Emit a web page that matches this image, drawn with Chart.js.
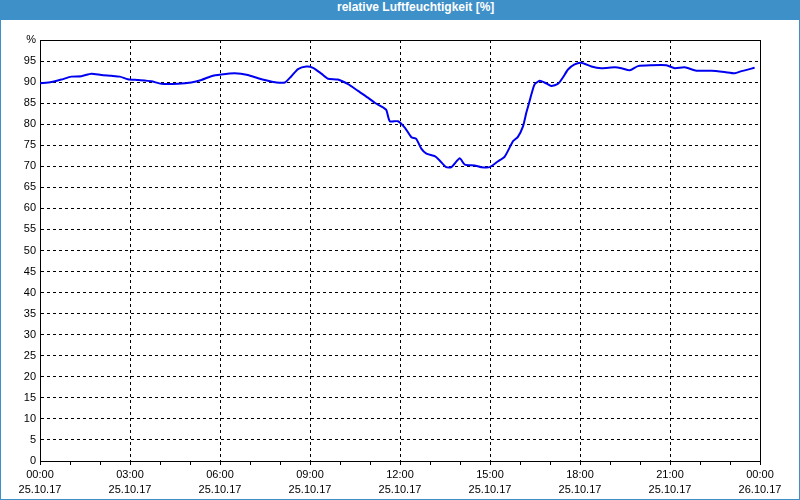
<!DOCTYPE html>
<html>
<head>
<meta charset="utf-8">
<script src="https://cdn.jsdelivr.net/npm/chart.js@4/dist/chart.umd.min.js"></script>
<style>
  body { margin: 0; background: #fff; }
  #frame { position: absolute; left: 0; top: 0; width: 798px; height: 499px; border: 1px solid #3d90c8; border-top: none; }
  #titlebar { position: absolute; left: 0; top: 0; width: 800px; height: 20px; background: #3d90c8; }
  #titlebar span { position: absolute; left: 337px; top: 0; line-height: 20px; color: #fff; font: bold 12px "Liberation Sans", Arial, sans-serif; }
  #chart { position: absolute; left: 0; top: 0; }
</style>
</head>
<body>
<div id="frame"></div>
<div id="titlebar"><span>relative Luftfeuchtigkeit [%]</span></div>
<canvas id="chart" width="800" height="500"></canvas>
<script>
// time in hours since 25.10.17 00:00
const hours = [
  0.00, 0.38, 0.71, 1.04, 1.38, 1.71, 2.04, 2.38, 2.66, 2.93,
  3.27, 3.71, 4.04, 4.60, 5.04, 5.38, 5.71, 6.04, 6.49, 6.93,
  7.27, 7.60, 7.88, 8.16, 8.38, 8.60, 8.88, 9.10, 9.38, 9.60,
  9.93, 10.27, 10.60, 10.93, 11.16, 11.49, 11.55, 11.66, 11.93, 12.16,
  12.38, 12.54, 12.71, 12.88, 13.16, 13.32, 13.54, 13.71, 13.99, 14.16,
  14.49, 14.71, 14.99, 15.27, 15.49, 15.77, 15.93, 16.10, 16.21, 16.32,
  16.38, 16.49, 16.66, 16.82, 17.04, 17.27, 17.43, 17.60, 17.82, 18.04,
  18.38, 18.71, 19.16, 19.38, 19.66, 19.93, 20.38, 20.88, 21.16, 21.49,
  21.88, 22.38, 22.82, 23.16, 23.38, 23.82
];
const humidity = [
  89.7, 90.0, 90.6, 91.3, 91.4, 92.0, 91.7, 91.5, 91.3, 90.7,
  90.5, 90.2, 89.6, 89.6, 89.9, 90.5, 91.4, 91.8, 92.1, 91.7,
  90.9, 90.3, 89.9, 89.9, 91.4, 93.1, 93.7, 93.4, 92.0, 90.8,
  90.6, 89.5, 87.9, 86.3, 85.1, 83.7, 83.3, 80.7, 80.7, 79.2,
  76.9, 76.5, 74.2, 73.0, 72.4, 71.4, 69.8, 69.8, 71.9, 70.4,
  70.2, 69.8, 69.8, 71.2, 72.3, 76.0, 77.0, 79.5, 82.7, 85.5,
  87.1, 89.5, 90.3, 89.9, 89.1, 89.6, 91.1, 93.0, 94.2, 94.6,
  93.7, 93.3, 93.5, 93.3, 92.8, 93.8, 94.0, 94.0, 93.3, 93.5,
  92.7, 92.7, 92.4, 92.1, 92.6, 93.4
];

const timeLabels = ['00:00', '03:00', '06:00', '09:00', '12:00', '15:00', '18:00', '21:00', '00:00'];
const dateLabels = ['25.10.17', '25.10.17', '25.10.17', '25.10.17', '25.10.17', '25.10.17', '25.10.17', '25.10.17', '26.10.17'];

Chart.defaults.font.family = '"Liberation Sans", Arial, sans-serif';
Chart.defaults.font.size = 11;
Chart.defaults.color = '#000';

const framePlugin = {
  id: 'frame',
  beforeDatasetsDraw(chart) {
    const a = chart.chartArea;
    const ctx = chart.ctx;
    ctx.save();
    ctx.strokeStyle = '#000';
    ctx.lineWidth = 1;
    ctx.strokeRect(Math.round(a.left) + 0.5, Math.round(a.top) + 0.5, Math.round(a.right - a.left), Math.round(a.bottom - a.top));
    ctx.restore();
  }
};

const points = hours.map((h, i) => ({ x: h, y: humidity[i] }));

new Chart(document.getElementById('chart'), {
  type: 'line',
  data: {
    datasets: [{
      data: points,
      borderColor: '#0000f0',
      borderWidth: 2,
      pointRadius: 0,
      fill: false,
      tension: 0.2
    }]
  },
  options: {
    responsive: false,
    animation: false,
    layout: { padding: { left: 0, right: 40, top: 40, bottom: 0 } },
    plugins: { legend: { display: false }, tooltip: { enabled: false } },
    scales: {
      x: {
        type: 'linear',
        min: 0,
        max: 24,
        afterFit(scale) { scale.height = 39; },
        ticks: {
          stepSize: 1,
          autoSkip: false,
          maxRotation: 0,
          padding: 3,
          font: { size: 11, lineHeight: 1.35 },
          callback(v) {
            if (v % 3 !== 0) return '';
            return [timeLabels[v / 3], dateLabels[v / 3]];
          }
        },
        grid: {
          color: ctx => (ctx.tick && ctx.tick.value % 3 === 0) ? '#000' : 'rgba(0,0,0,0)',
          tickColor: '#000',
          tickLength: 4,
          tickBorderDash: [],
          lineWidth: 1
        },
        border: { display: true, color: '#000', width: 1, dash: [3, 3] }
      },
      y: {
        min: 0,
        max: 100,
        afterFit(scale) { scale.width = 40; },
        ticks: {
          stepSize: 5,
          padding: 4,
          callback(v) { return v === 100 ? '%' : v; }
        },
        grid: {
          color: '#000',
          drawTicks: false,
          lineWidth: 1
        },
        border: { display: true, color: '#000', width: 1, dash: [3, 3] }
      }
    }
  },
  plugins: [framePlugin]
});
</script>
</body>
</html>
